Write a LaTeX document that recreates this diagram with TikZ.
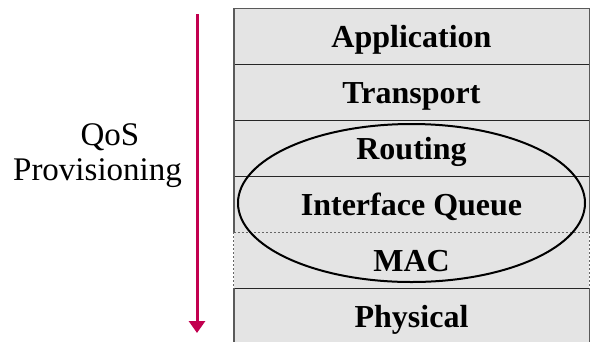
\documentclass[tikz,border=0pt]{standalone}
\usepackage{fontspec}
\setmainfont{Liberation Serif}
\usetikzlibrary{shapes.geometric,arrows.meta}
\definecolor{layerfill}{HTML}{E4E4E4}
\definecolor{framegray}{HTML}{5A5A5A}
\definecolor{qosred}{HTML}{C2004F}
\tikzset{
  layer/.style={rectangle, fill=layerfill, minimum width=355pt, minimum height=56pt,
    inner sep=0pt, text height=22pt, text depth=0pt,
    font=\fontsize{32}{34}\selectfont\bfseries},
  sepline/.style={line width=1.2pt, draw=black!85},
  dotline/.style={line width=1.1pt, draw=black!60, dash pattern=on 2pt off 2pt},
  frameline/.style={line width=1.4pt, draw=framegray},
  qoslabel/.style={anchor=base, inner sep=0pt, font=\fontsize{33}{34}\selectfont},
}
\begin{document}
\begin{tikzpicture}[x=1pt,y=-1pt]
\useasboundingbox (0,0) rectangle (591,341);
\begin{scope}
\clip (0,0) rectangle (591,341);
\node[layer] (app) at (411.5,36.5) {Application};
\node[layer] (trans) at (411.5,92.5) {Transport};
\node[layer] (rout) at (411.5,148.5) {Routing};
\node[layer] (ifq) at (411.5,204.5) {Interface Queue};
\node[layer] (mac) at (411.5,260.5) {MAC};
\node[layer] (phy) at (411.5,316.5) {Physical};
% separators
\draw[sepline] (app.south west) -- (app.south east);
\draw[sepline] (trans.south west) -- (trans.south east);
\draw[sepline] (rout.south west) -- (rout.south east);
\draw[dotline] (ifq.south west) -- (ifq.south east);
\draw[sepline] (mac.south west) -- (mac.south east);
% frame
\draw[frameline] (app.north west) -- (app.north east);
\draw[frameline] (app.north west) -- (ifq.south west);
\draw[frameline] (app.north east) -- (ifq.south east);
\draw[dotline] (mac.north west) -- (mac.south west);
\draw[dotline] (mac.north east) -- (mac.south east);
\draw[frameline] (phy.north west) -- (phy.south west);
\draw[frameline] (phy.north east) -- (phy.south east);
\end{scope}
% ellipse
\node[ellipse, draw=black, line width=2pt, minimum width=347pt, minimum height=158pt, inner sep=0pt] (qosel) at (411.5,203) {};
% arrow
\coordinate (arrS) at (197,14);
\coordinate (arrE) at (197,333);
\draw[qosred, line width=3pt, -{Triangle[width=16pt,length=12pt]}] (arrS) -- (arrE);
% label
\node[qoslabel] (qos) at (110,145.7) {QoS};
\node[qoslabel] (prov) at (97.5,180) {Provisioning};
\end{tikzpicture}
\end{document}
